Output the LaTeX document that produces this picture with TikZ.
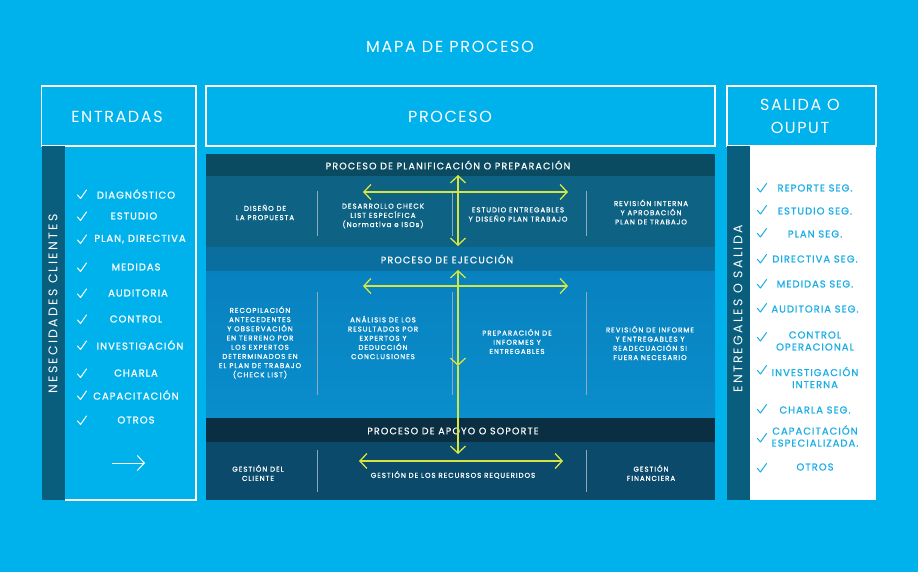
\documentclass[tikz,border=0pt]{standalone}
\usepackage{fontspec}
\setmainfont{Poppins}
\newfontfamily\titlef[LetterSpace=11]{Poppins}
\newfontfamily\spacedf[LetterSpace=10]{Poppins}
\newfontfamily\itemf[LetterSpace=10,FakeBold=0.8]{Poppins}
\newfontfamily\vertf[LetterSpace=18]{Poppins}
\newfontfamily\bandf[LetterSpace=12,FakeBold=0.5]{Poppins}
\newfontfamily\smallf[LetterSpace=14,FakeBold=1]{Poppins}
\usetikzlibrary{arrows.meta}
\definecolor{bg}{HTML}{00B2EC}
\definecolor{strip}{HTML}{0A5E7D}
\definecolor{planhead}{HTML}{0B4B61}
\definecolor{planbody}{HTML}{0E6385}
\definecolor{ejehead}{HTML}{0A6E9F}
\definecolor{ejetop}{HTML}{0881BF}
\definecolor{ejebot}{HTML}{0A8ECC}
\definecolor{apohead}{HTML}{0A2E42}
\definecolor{apobody}{HTML}{0B4A6B}
\definecolor{ylw}{HTML}{D6E640}
\definecolor{divider}{HTML}{8FA9B8}
\definecolor{outtext}{HTML}{1BAEE6}
\tikzset{
  hdrbox/.style={draw=white, line width=1.2pt, inner sep=0pt},
  hdrtext/.style={text=white, inner sep=0pt, align=center, font=\spacedf\fontsize{16}{23}\selectfont},
  bandtitle/.style={text=white, inner sep=0pt, font=\bandf\fontsize{9.5}{11}\selectfont},
  small/.style={text=white, inner sep=0pt, align=center, font=\smallf\fontsize{7}{9.2}\selectfont},
  initem/.style={text=white, inner sep=0pt, align=center, font=\itemf\fontsize{10}{12}\selectfont},
  outitem/.style={text=outtext, inner sep=0pt, align=center, font=\itemf\fontsize{10}{12}\selectfont},
  vlabel/.style={text=white, inner sep=0pt, rotate=90, font=\vertf\fontsize{12.5}{14}\selectfont},
  divline/.style={draw=divider, line width=1pt},
  yarrow/.style={draw=ylw, line width=1.3pt, arrows={Straight Barb[length=7pt,width=15pt,line width=1.3pt]-Straight Barb[length=7pt,width=15pt,line width=1.3pt]}},
  yarrowend/.style={draw=ylw, line width=1.3pt, arrows={-Straight Barb[length=7pt,width=15pt,line width=1.3pt]}},
  chk/.pic={\draw[line width=1pt, line cap=round, line join=round] (-4.5,0.5) -- (-1.5,4) -- (4.5,-4.5);}
}
\begin{document}
\begin{tikzpicture}[x=1pt,y=-1pt]
\fill[bg] (0,0) rectangle (918,572);
\useasboundingbox (0,0) rectangle (918,572);

% title
\node[text=white, inner sep=0pt, font=\titlef\fontsize{16}{18}\selectfont] (title) at (450,47) {MAPA DE PROCESO};

% ===== ENTRADAS =====
\node[hdrbox, minimum width=154.5, minimum height=60] (inHdr) at (118.75,116) {};
\node[hdrtext] (inHdrT) at (117,117) {ENTRADAS};
\fill[strip] (41.5,146) rectangle (65,500);
\draw[white, line width=1.2pt] (65,146) -- (196,146) -- (196,500) -- (65,500);
\node[vlabel] (inV) at (53,304) {NESECIDADES CLIENTES};

\foreach \n/\t/\y/\cx in {a/DIAGNÓSTICO/194/136, b/ESTUDIO/216/134, c/{PLAN, DIRECTIVA}/239/140,
   d/MEDIDAS/267/136, e/AUDITORIA/293/138, f/CONTROL/319/136, g/INVESTIGACIÓN/345/140,
   h/CHARLA/373/136, i/CAPACITACIÓN/395/136, j/OTROS/420/136}{
  \node[initem] (in\n) at (\cx,\y) {\t};
  \pic[white] at (82,\y+0.5) {chk};
}
\coordinate (inArrA) at (112,463);
\coordinate (inArrB) at (145,463);
\draw[white, line width=1pt, -{Straight Barb[length=7pt,width=15pt,line width=1pt]}] (inArrA) -- (inArrB);

% ===== PROCESO =====
\node[hdrbox, minimum width=509, minimum height=60] (prHdr) at (460.5,116) {};
\node[hdrtext] (prHdrT) at (450,117) {PROCESO};

\fill[planhead] (206,154) rectangle (715,176);
\fill[planbody] (206,176) rectangle (715,247);
\fill[ejehead] (206,247) rectangle (715,271);
\shade[top color=ejetop, bottom color=ejebot] (206,271) rectangle (715,418);
\fill[apohead] (206,418) rectangle (715,442);
\fill[apobody] (206,442) rectangle (715,500);

\node[bandtitle] (planT) at (448,165) {PROCESO DE PLANIFICACIÓN O PREPARACIÓN};
\node[bandtitle] (ejeT) at (447,259) {PROCESO DE EJECUCIÓN};
\node[bandtitle] (apoT) at (453,431) {PROCESO DE APOYO O SOPORTE};

% dividers
\foreach \x in {317,452,586}{
  \draw[divline] (\x,191) -- (\x,236);
  \draw[divline] (\x,292) -- (\x,395);
}
\draw[divline] (317,450) -- (317,492);
\draw[divline] (586,450) -- (586,492);

% plan texts
\node[small] (p1) at (265,212.5) {DISEÑO DE\\LA PROPUESTA};
\node[small] (p2) at (383,216) {DESARROLLO CHECK\\LIST ESPECÍFICA\\(Normativa e ISOs)};
\node[small] (p3) at (518,214.5) {ESTUDIO ENTREGABLES\\Y DISEÑO PLAN TRABAJO};
\node[small] (p4) at (651,212) {REVISIÓN INTERNA\\Y APROBACIÓN\\PLAN DE TRABAJO};

% execution texts
\node[small] (e1) at (260,342.5) {RECOPILACIÓN\\ANTECEDENTES\\Y OBSERVACIÓN\\EN TERRENO POR\\LOS EXPERTOS\\DETERMINADOS EN\\EL PLAN DE TRABAJO\\(CHECK LIST)};
\node[small] (e2) at (383,337.5) {ANÁLISIS DE LOS\\RESULTADOS POR\\EXPERTOS Y\\DEDUCCIÓN\\CONCLUSIONES};
\node[small] (e3) at (517,341.5) {PREPARACIÓN DE\\INFORMES Y\\ENTREGABLES};
\node[small] (e4) at (650,343) {REVISIÓN DE INFORME\\Y ENTREGABLES Y\\READECUACIÓN SI\\FUERA NECESARIO};

% support texts
\node[small] (s1) at (258,473) {GESTIÓN DEL\\CLIENTE};
\node[small] (s2) at (453,475) {GESTIÓN DE LOS RECURSOS REQUERIDOS};
\node[small] (s3) at (651,473) {GESTIÓN\\FINANCIERA};

% yellow arrows
\coordinate (phL) at (363,192);
\coordinate (phR) at (568,192);
\coordinate (pvT) at (458,175);
\coordinate (pvB) at (458,246);
\draw[yarrow] (phL) -- (phR);
\draw[yarrow] (pvT) -- (pvB);

\coordinate (ehL) at (363,286);
\coordinate (ehR) at (568,286);
\coordinate (evT) at (458,270);
\coordinate (evM) at (458,366);
\coordinate (evB) at (458,454);
\draw[yarrow] (ehL) -- (ehR);
\draw[yarrow] (evT) -- (evM);
\draw[yarrowend] (evM) -- (evB);

\coordinate (shL) at (359,461);
\coordinate (shR) at (563,461);
\draw[yarrow] (shL) -- (shR);

% ===== SALIDA =====
\node[hdrbox, minimum width=149, minimum height=60] (outHdr) at (801.5,116) {};
\node[hdrtext] (outHdrT) at (800,116) {SALIDA O\\OUPUT};
\fill[strip] (727,146) rectangle (750,500);
\fill[white] (750,146) rectangle (876,500);
\node[vlabel] (outV) at (738,309) {ENTREGALES O SALIDA};

\foreach \n/\t/\y/\cy in {a/{REPORTE SEG.}/188/188, b/{ESTUDIO SEG.}/211/210, c/{PLAN SEG.}/234/233,
   d/{DIRECTIVA SEG.}/259/259, e/{MEDIDAS SEG.}/284/284, f/{AUDITORIA SEG.}/309/308,
   g/{CONTROL\\OPERACIONAL}/341/337, h/{INVESTIGACIÓN\\INTERNA}/377.5/370, i/{CHARLA SEG.}/410/409,
   j/{CAPACITACIÓN\\ESPECIALIZADA.}/436/438, k/{OTROS}/467/468}{
  \node[outitem] (out\n) at (815,\y) {\t};
  \pic[outtext] at (762,\cy) {chk};
}
\end{tikzpicture}
\end{document}
